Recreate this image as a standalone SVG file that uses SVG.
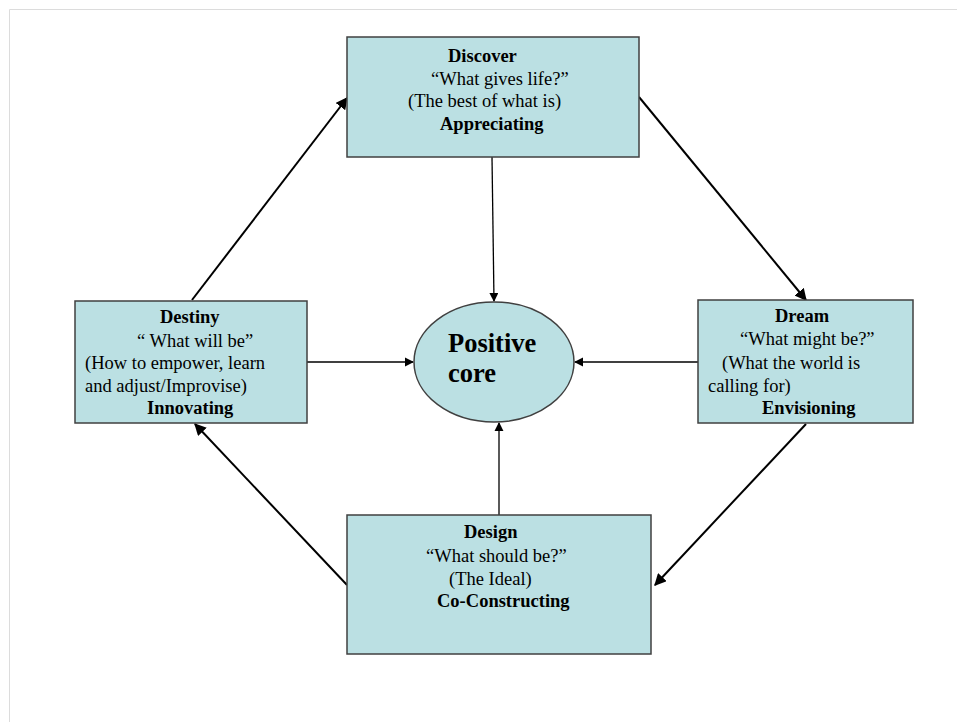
<svg xmlns="http://www.w3.org/2000/svg" width="957" height="722" viewBox="0 0 957 722">
<style>
.box{fill:#bbe0e3;stroke:#404040;stroke-width:1.5}
.t{font-family:"Liberation Serif",serif;font-size:18.5px;fill:#000}
.b{font-weight:bold}
.big{font-family:"Liberation Serif",serif;font-size:26.5px;font-weight:bold;fill:#000}
.c{stroke:#000;stroke-width:2;fill:none;marker-end:url(#ah)}
.c1{stroke:#000;stroke-width:1.3;fill:none;marker-end:url(#ah2)}
</style>
<defs>
<marker id="ah" viewBox="0 0 10 10" refX="9" refY="5" markerWidth="6" markerHeight="6" markerUnits="strokeWidth" orient="auto">
<path d="M0,0 L10,5 L0,10 Z" fill="#000"/>
</marker>
<marker id="ah2" viewBox="0 0 10 10" refX="9" refY="5" markerWidth="7" markerHeight="7" markerUnits="strokeWidth" orient="auto">
<path d="M0,0 L10,5 L0,10 Z" fill="#000"/>
</marker>
</defs>
<rect width="957" height="722" fill="#fff"/>
<path d="M9.5,722 V9.5 H957" fill="none" stroke="#dcdcdc" stroke-width="1"/>
<g id="connectors">
<line class="c" x1="192" y1="300" x2="347" y2="98"/>
<line class="c" x1="639" y1="97" x2="806" y2="300"/>
<line class="c" x1="806" y1="424" x2="655" y2="585"/>
<line class="c" x1="347" y1="585" x2="195" y2="424"/>
<line class="c1" x1="492" y1="157" x2="494" y2="301"/>
<line class="c1" x1="307" y1="362" x2="413" y2="362"/>
<line class="c1" x1="698" y1="362" x2="575" y2="362"/>
<line class="c1" x1="499" y1="515" x2="499" y2="423"/>
</g>
<g id="discover">
<rect class="box" x="347" y="37" width="292" height="120"/>
<text class="t b" x="448" y="62">Discover</text>
<text class="t" x="431" y="85">“What gives life?”</text>
<text class="t" x="408" y="107">(The best of what is)</text>
<text class="t b" x="440" y="130">Appreciating</text>
</g>
<g id="destiny">
<rect class="box" x="75" y="301" width="232" height="122"/>
<text class="t b" x="160" y="323">Destiny</text>
<text class="t" x="137" y="347">“ What will be”</text>
<text class="t" x="85" y="369">(How to empower, learn</text>
<text class="t" x="85" y="392">and adjust/Improvise)</text>
<text class="t b" x="147" y="414">Innovating</text>
</g>
<g id="dream">
<rect class="box" x="698" y="300" width="215" height="123"/>
<text class="t b" x="775" y="322">Dream</text>
<text class="t" x="740" y="345">“What might be?”</text>
<text class="t" x="722" y="369">(What the world is</text>
<text class="t" x="708" y="392">calling for)</text>
<text class="t b" x="762" y="414">Envisioning</text>
</g>
<g id="design">
<rect class="box" x="347" y="515" width="304" height="139"/>
<text class="t b" x="464" y="538">Design</text>
<text class="t" x="426" y="562">“What should be?”</text>
<text class="t" x="449" y="585">(The Ideal)</text>
<text class="t b" x="437" y="607">Co-Constructing</text>
</g>
<g id="core">
<ellipse class="box" cx="494" cy="362" rx="80" ry="60"/>
<text class="big" x="448" y="352">Positive</text>
<text class="big" x="448" y="382">core</text>
</g>
</svg>
